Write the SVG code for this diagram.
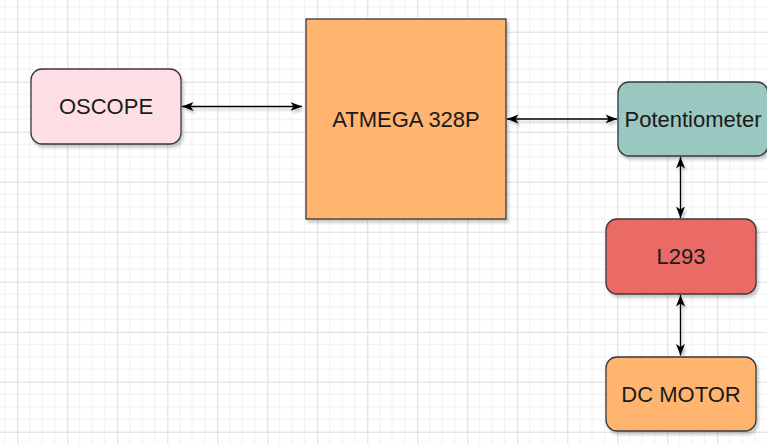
<svg xmlns="http://www.w3.org/2000/svg" width="767" height="444" viewBox="0 0 767 444">
<style>
.node{stroke:#36393d;stroke-width:1.3;filter:url(#sh)}
.lbl{font-family:"Liberation Sans",Arial,sans-serif;font-size:22px;fill:#1a1a1a;text-anchor:middle;dominant-baseline:central}
.conn{stroke:#000;stroke-width:1.3;fill:none;marker-start:url(#ah);marker-end:url(#ah)}
</style>
<defs>
<pattern id="grid" patternUnits="userSpaceOnUse" width="50" height="50" x="17.3" y="31.7">
<rect width="50" height="50" fill="#fff"/>
<path d="M12.5 0V50M25 0V50M37.5 0V50M0 12.5H50M0 25H50M0 37.5H50" stroke="#f0f0f0" stroke-width="1"/>
<path d="M0.5 0V50M0 0.5H50" stroke="#dcdcdc" stroke-width="1"/>
</pattern>
<filter id="sh" x="-10%" y="-10%" width="130%" height="130%">
<feDropShadow dx="2" dy="3" stdDeviation="1.5" flood-color="#000" flood-opacity="0.22"/>
</filter>
<filter id="csh" filterUnits="userSpaceOnUse" x="0" y="0" width="767" height="444">
<feDropShadow dx="2" dy="3" stdDeviation="1.2" flood-color="#000" flood-opacity="0.2"/>
</filter>
<marker id="ah" markerUnits="userSpaceOnUse" viewBox="0 -5 12 10" refX="11.5" refY="0" markerWidth="12" markerHeight="10" orient="auto-start-reverse">
<path d="M11.5,0 L0,-4.5 L3,0 L0,4.5 Z" fill="#000"/>
</marker>
</defs>
<rect width="767" height="444" fill="url(#grid)"/>
<g id="connectors" filter="url(#csh)">
<path class="conn" d="M182 106.5H302"/>
<path class="conn" d="M507 119H617"/>
<path class="conn" d="M680.5 157V218"/>
<path class="conn" d="M680.5 295V355.5"/>
</g>
<g id="oscope">
<rect class="node" x="31" y="69" width="150" height="75" rx="11" fill="#ffdfe6"/>
<text class="lbl" x="106" y="106.5">OSCOPE</text>
</g>
<g id="atmega">
<rect class="node" x="306" y="19" width="200" height="200" fill="#ffb570"/>
<text class="lbl" x="406" y="119">ATMEGA 328P</text>
</g>
<g id="potentiometer">
<rect class="node" x="618" y="82" width="150" height="74" rx="11" fill="#9ac7bf"/>
<text class="lbl" x="693" y="119">Potentiometer</text>
</g>
<g id="l293">
<rect class="node" x="606" y="219" width="150" height="75" rx="11" fill="#ea6b66"/>
<text class="lbl" x="681" y="256.5">L293</text>
</g>
<g id="dcmotor">
<rect class="node" x="606" y="357" width="150" height="74" rx="11" fill="#ffb570"/>
<text class="lbl" x="681" y="394">DC MOTOR</text>
</g>
</svg>
